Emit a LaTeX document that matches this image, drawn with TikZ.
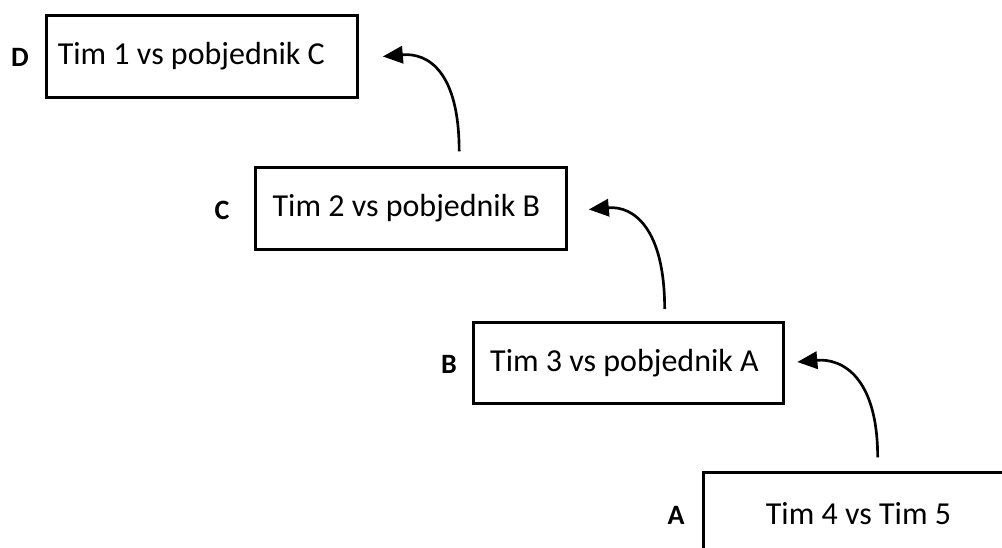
\documentclass[tikz,border=0pt]{standalone}
\usepackage{fontspec}
\setmainfont{Carlito}
\usetikzlibrary{arrows.meta,calc}

\tikzset{every picture/.style={line width=2.25pt}}
\tikzset{
  matchbox/.style={draw, minimum width=233pt, minimum height=61pt, inner sep=0pt, font=\fontsize{24}{28}\selectfont},
  roundlbl/.style={font=\bfseries\fontsize{21}{25}\selectfont},
  winarrow/.style={-{Triangle[length=15pt,width=13pt]}, line width=2pt}
}

\begin{document}
\begin{tikzpicture}[x=0.75pt,y=0.75pt,yscale=-1,xscale=1]
%set diagram window to 1002 x 547
\clip (0,0) rectangle (1002,547);

%Shape: Rectangle [id:dp_roundD] 
\node[matchbox] (D) at (202,56.5) {\hspace*{-16pt}Tim 1 vs pobjednik C};
%Shape: Rectangle [id:dp_roundC] 
\node[matchbox] (C) at (411,208.5) {\hspace*{-7pt}Tim 2 vs pobjednik B};
%Shape: Rectangle [id:dp_roundB] 
\node[matchbox] (B) at (628.5,363) {\hspace*{-6pt}Tim 3 vs pobjednik A};
%Shape: Rectangle [id:dp_roundA] 
\node[matchbox] (A) at (858.5,513.5) {Tim 4 vs Tim 5};

%Text Nodes
\node[roundlbl] (labD) at (20,57) {D};
\node[roundlbl] (labC) at (222,210) {C};
\node[roundlbl] (labB) at (449,364) {B};
\node[roundlbl] (labA) at (676,515) {A};

%Curve Lines [id:da_AtoB] 
\draw[winarrow] ($(A.north west)+(176,-14)$) .. controls +(0,-80) and +(45,-4) .. ($(B.east)+(12,-1)$);
%Curve Lines [id:da_BtoC] 
\draw[winarrow] ($(B.north west)+(193,-12)$) .. controls +(0,-80) and +(45,-4) .. ($(C.east)+(21,1)$);
%Curve Lines [id:da_CtoD] 
\draw[winarrow] ($(C.north west)+(205,-15)$) .. controls +(0,-80) and +(45,-4) .. ($(D.east)+(24,0)$);

\end{tikzpicture}
\end{document}
